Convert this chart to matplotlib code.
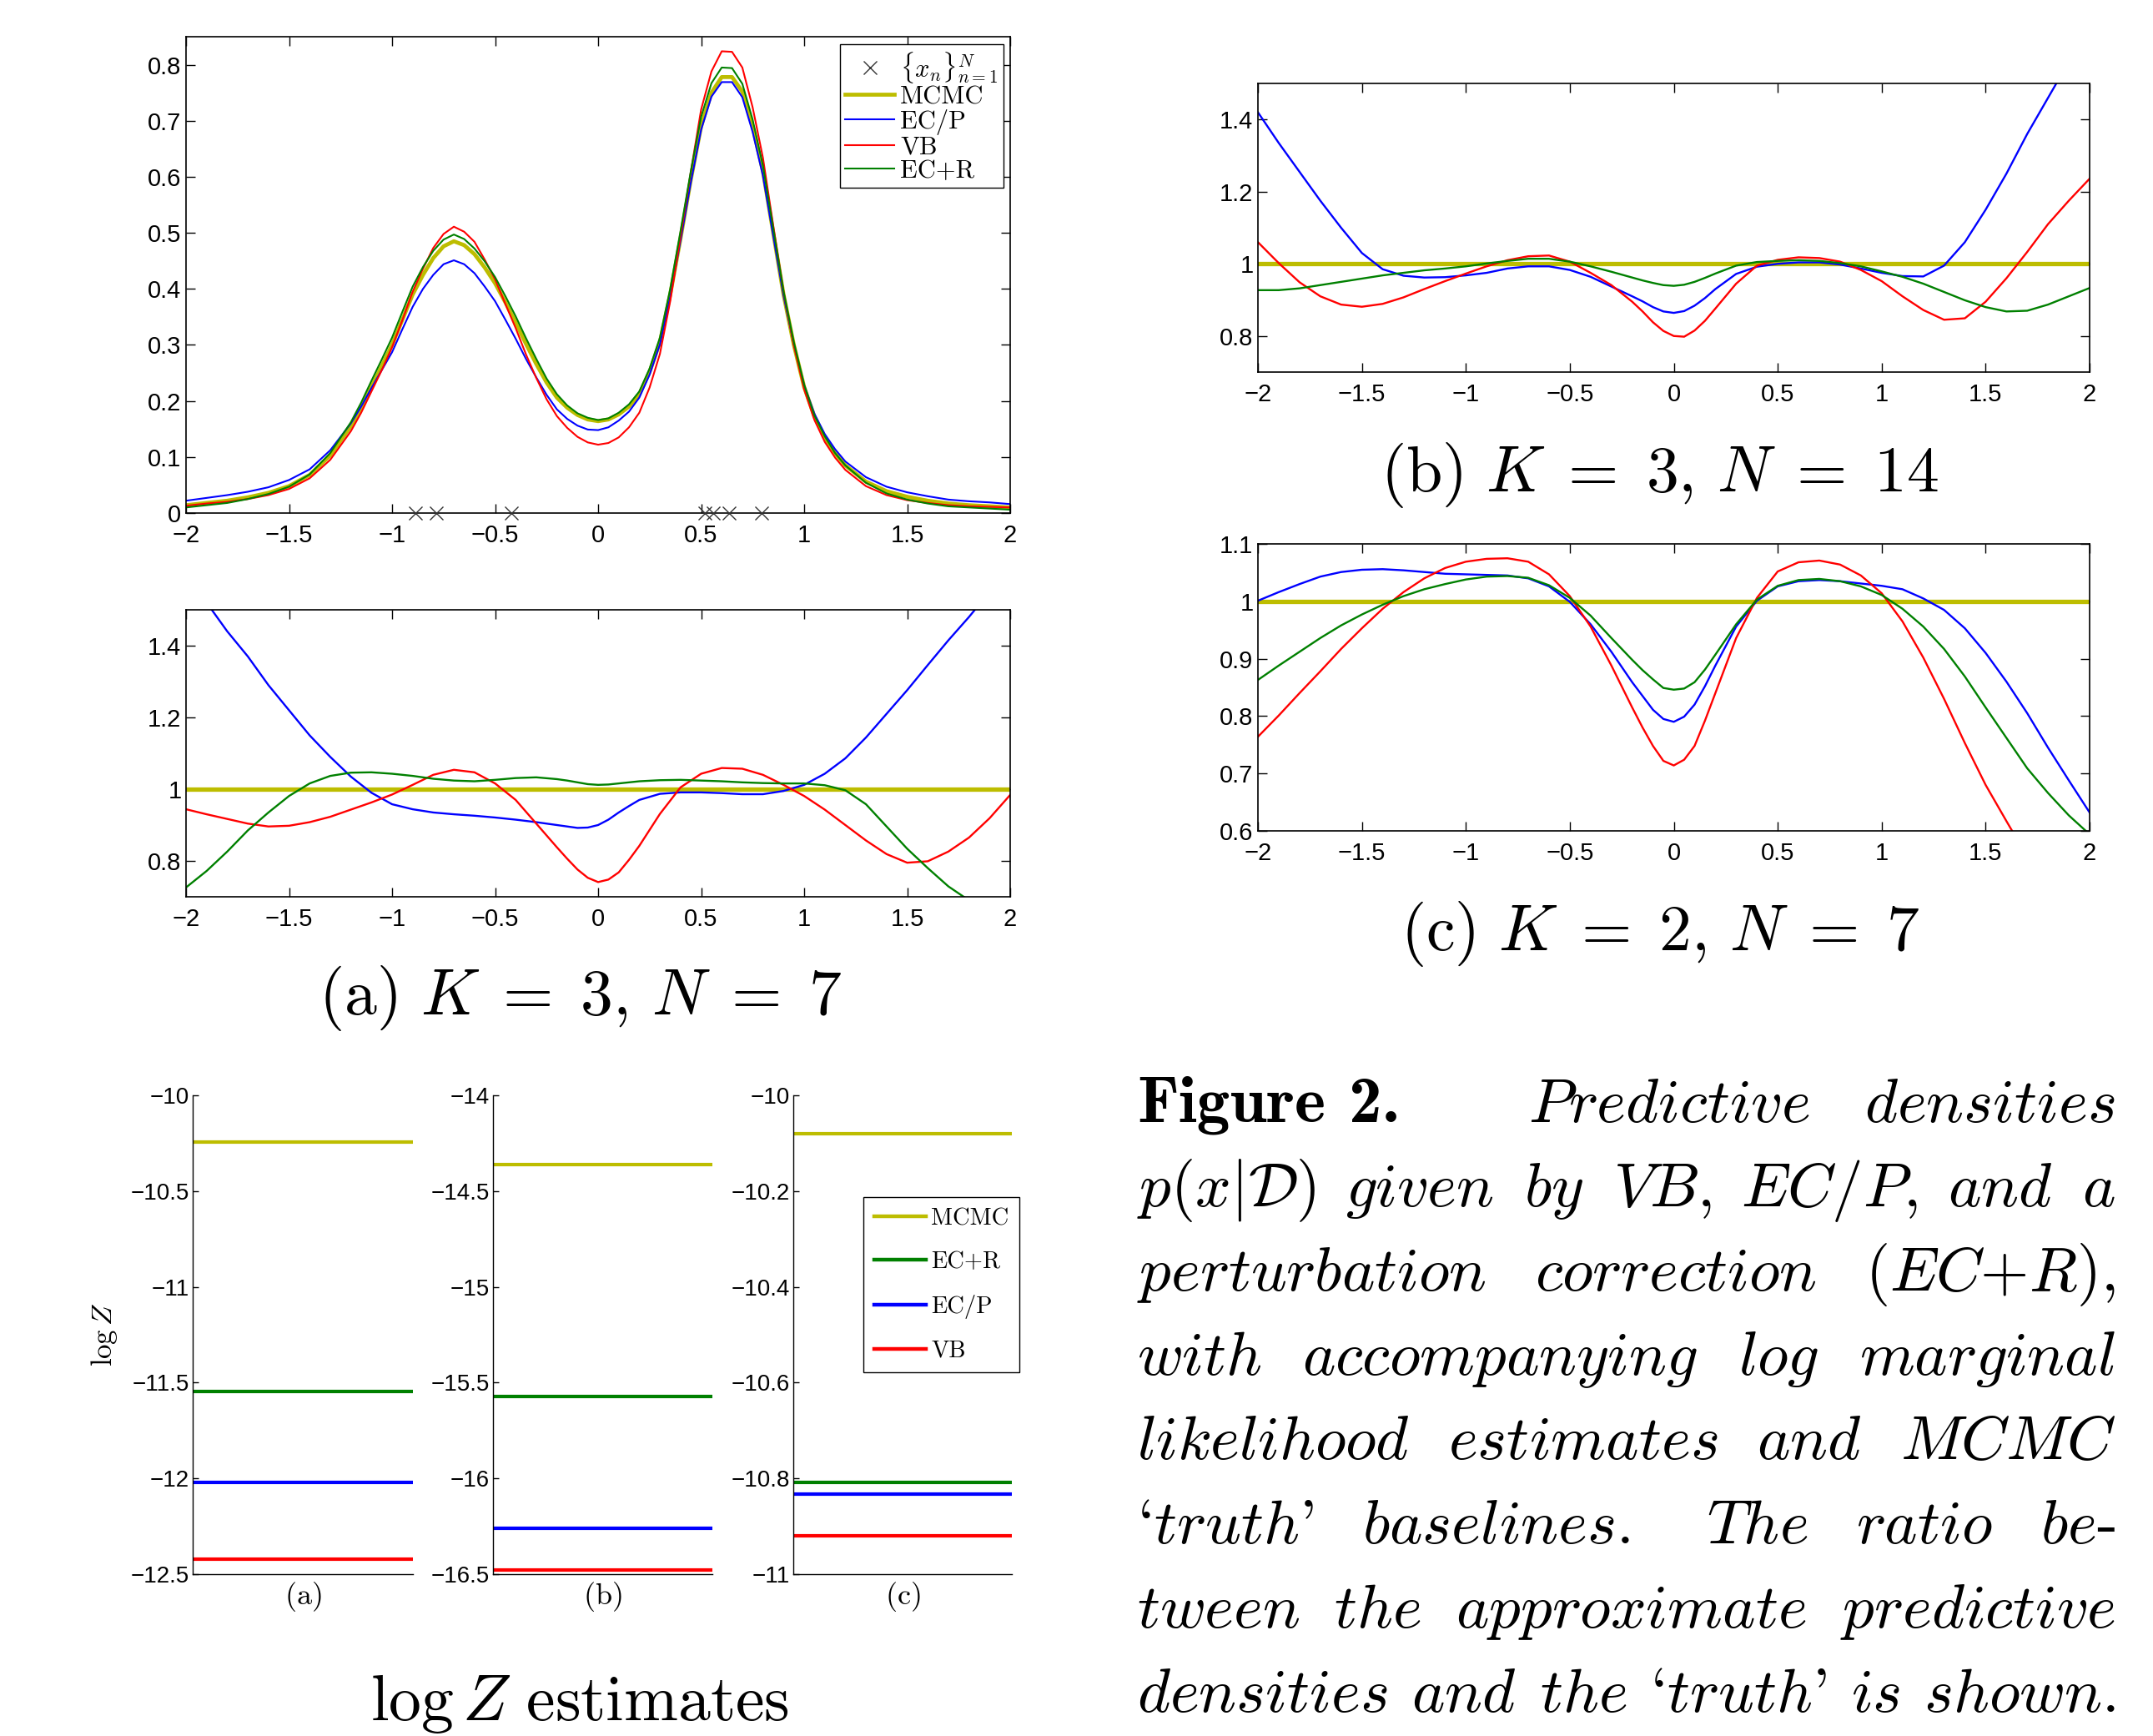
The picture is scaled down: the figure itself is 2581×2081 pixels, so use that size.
import numpy as np
import matplotlib
matplotlib.use("Agg")
import matplotlib.pyplot as plt
from matplotlib.lines import Line2D
from matplotlib.ticker import FuncFormatter

# ------------------------------------------------------------------ data
X_DENS = [-2.0, -1.9, -1.8, -1.7, -1.6, -1.5, -1.4, -1.3, -1.2,
          -1.15, -1.1, -1.05, -1.0, -0.95, -0.9, -0.85, -0.8, -0.75, -0.7,
          -0.65, -0.6, -0.55, -0.5, -0.45, -0.4, -0.35, -0.3, -0.25, -0.2,
          -0.15, -0.1, -0.05, 0.0, 0.05, 0.1, 0.15, 0.2, 0.25, 0.3, 0.35,
          0.4, 0.45, 0.5, 0.55, 0.6, 0.65, 0.7, 0.75, 0.8, 0.85, 0.9, 0.95,
          1.0, 1.05, 1.1, 1.15,
          1.2, 1.3, 1.4, 1.5, 1.6, 1.7, 1.8, 1.9, 2.0]

DENS_MCMC = [.014, .018, .022, .028, .036, .048, .068, .103, .155,
             .188, .225, .262, .300, .345, .390, .425, .455, .476, .485,
             .478, .462, .438, .410, .376, .340, .302, .266, .233, .206,
             .188, .175, .167, .164, .167, .176, .190, .212, .252, .305, .390,
             .490, .595, .690, .750, .778, .778, .752, .690, .610, .500, .390, .300,
             .225, .172, .135, .107,
             .085, .056, .039, .029, .022, .017, .014, .012, .010]

DENS_ECP = [.022, .027, .032, .038, .046, .059, .078, .112, .160,
            .190, .223, .255, .287, .328, .368, .400, .425, .444, .451,
            .444, .428, .404, .378, .345, .311, .275, .242, .211, .185,
            .168, .156, .149, .148, .153, .165, .181, .206, .247, .301, .386,
            .486, .590, .684, .743, .769, .769, .742, .680, .602, .495, .388, .301,
            .228, .177, .141, .114,
            .092, .064, .047, .037, .030, .024, .021, .019, .016]

DENS_VB = [.013, .017, .020, .025, .032, .043, .062, .095, .146,
           .179, .217, .255, .296, .344, .395, .436, .473, .498, .511,
           .502, .484, .452, .417, .373, .330, .283, .241, .203, .173,
           .152, .136, .126, .122, .125, .135, .153, .179, .224, .284, .378,
           .493, .609, .720, .788, .824, .823, .795, .724, .634, .513, .395, .299,
           .221, .166, .127, .099,
           .077, .048, .032, .023, .018, .014, .012, .011, .010]

DENS_ECR = [.010, .014, .018, .025, .034, .047, .069, .107, .162,
            .197, .236, .274, .313, .359, .404, .439, .468, .488, .497,
            .489, .472, .449, .421, .387, .351, .312, .275, .240, .212,
            .192, .178, .170, .166, .169, .179, .194, .217, .258, .313, .400,
            .503, .610, .707, .767, .795, .794, .766, .702, .620, .508, .396, .305,
            .229, .174, .137, .107,
            .085, .054, .035, .024, .017, .012, .010, .008, .006]

X_SAMPLES = [-0.887, -0.787, -0.42, 0.52, 0.56, 0.637, 0.795]

X_RATIO = [-2.0, -1.9, -1.8, -1.7, -1.6, -1.5, -1.4, -1.3, -1.2, -1.1,
           -1.0, -0.9, -0.8, -0.7, -0.6, -0.5, -0.4, -0.3, -0.2, -0.15, -0.1, -0.05,
           0.0, 0.05, 0.1, 0.15, 0.2, 0.3, 0.4, 0.5, 0.6, 0.7, 0.8, 0.9,
           1.0, 1.1, 1.2, 1.3, 1.4, 1.5, 1.6, 1.7, 1.8, 1.9, 2.0]
RATIO_MCMC = 1.0

RA_ECP = [1.60, 1.52, 1.44, 1.37, 1.29, 1.22, 1.15, 1.09, 1.035, 0.99,
          0.958, 0.944, 0.935, 0.930, 0.926, 0.921, 0.915, 0.908, 0.900, 0.896, 0.892, 0.893,
          0.900, 0.915, 0.935, 0.953, 0.970, 0.987, 0.991, 0.991, 0.989, 0.986, 0.986, 0.995,
          1.012, 1.043, 1.086, 1.144, 1.21, 1.276, 1.346, 1.415, 1.48, 1.55, 1.62]
RA_VB = [0.944, 0.930, 0.917, 0.904, 0.896, 0.898, 0.908, 0.923, 0.943, 0.963,
         0.985, 1.012, 1.040, 1.054, 1.047, 1.016, 0.970, 0.904, 0.838, 0.806, 0.776, 0.753,
         0.741, 0.748, 0.768, 0.803, 0.842, 0.931, 1.005, 1.043, 1.059, 1.057, 1.040, 1.012,
         0.981, 0.943, 0.900, 0.857, 0.819, 0.795, 0.799, 0.826, 0.865, 0.919, 0.984]
RA_ECR = [0.726, 0.772, 0.826, 0.885, 0.935, 0.981, 1.016, 1.037, 1.046, 1.047,
          1.043, 1.037, 1.029, 1.024, 1.022, 1.026, 1.031, 1.033, 1.028, 1.024, 1.019, 1.014,
          1.012, 1.013, 1.016, 1.019, 1.022, 1.025, 1.026, 1.024, 1.022, 1.019, 1.017, 1.016,
          1.016, 1.011, 0.997, 0.958, 0.896, 0.834, 0.780, 0.729, 0.690, 0.630, 0.570]

RB_ECP = [1.42, 1.335, 1.255, 1.175, 1.10, 1.03, 0.985, 0.967, 0.962, 0.963,
          0.968, 0.975, 0.987, 0.993, 0.993, 0.983, 0.964, 0.937, 0.910, 0.896, 0.880, 0.868,
          0.864, 0.869, 0.884, 0.905, 0.930, 0.972, 0.992, 1.000, 1.004, 1.004, 0.998, 0.987,
          0.975, 0.966, 0.965, 0.995, 1.06, 1.15, 1.25, 1.36, 1.46, 1.56, 1.66]
RB_VB = [1.06, 1.002, 0.949, 0.910, 0.887, 0.881, 0.889, 0.907, 0.930, 0.952,
         0.973, 0.993, 1.010, 1.021, 1.023, 1.006, 0.975, 0.941, 0.895, 0.868, 0.838, 0.814,
         0.800, 0.798, 0.815, 0.842, 0.876, 0.945, 0.995, 1.011, 1.018, 1.016, 1.006, 0.983,
         0.952, 0.910, 0.872, 0.845, 0.849, 0.895, 0.960, 1.033, 1.11, 1.175, 1.236]
RB_ECR = [0.927, 0.927, 0.932, 0.941, 0.950, 0.959, 0.968, 0.975, 0.982, 0.987,
          0.993, 1.001, 1.008, 1.014, 1.014, 1.006, 0.993, 0.978, 0.962, 0.954, 0.947, 0.941,
          0.939, 0.942, 0.950, 0.961, 0.973, 0.995, 1.005, 1.008, 1.010, 1.008, 1.002, 0.993,
          0.979, 0.964, 0.945, 0.922, 0.899, 0.880, 0.868, 0.870, 0.887, 0.910, 0.933]

RC_ECP = [1.001, 1.016, 1.030, 1.043, 1.051, 1.055, 1.056, 1.054, 1.051, 1.048,
          1.047, 1.046, 1.045, 1.040, 1.026, 0.999, 0.960, 0.912, 0.859, 0.835, 0.811, 0.795,
          0.790, 0.799, 0.820, 0.852, 0.888, 0.956, 1.001, 1.026, 1.035, 1.037, 1.035, 1.031,
          1.027, 1.021, 1.005, 0.985, 0.953, 0.910, 0.860, 0.805, 0.745, 0.688, 0.632]
RC_VB = [0.764, 0.801, 0.840, 0.878, 0.917, 0.953, 0.987, 1.016, 1.040, 1.058,
         1.069, 1.074, 1.075, 1.069, 1.047, 1.009, 0.956, 0.888, 0.815, 0.780, 0.748, 0.722,
         0.714, 0.724, 0.748, 0.792, 0.840, 0.936, 1.006, 1.052, 1.068, 1.071, 1.064, 1.045,
         1.014, 0.965, 0.902, 0.830, 0.753, 0.680, 0.617, 0.555, 0.49, 0.43, 0.37]
RC_ECR = [0.863, 0.888, 0.912, 0.936, 0.958, 0.977, 0.994, 1.009, 1.021, 1.030,
          1.038, 1.043, 1.044, 1.041, 1.028, 1.006, 0.975, 0.936, 0.898, 0.880, 0.864, 0.849,
          0.846, 0.848, 0.859, 0.881, 0.907, 0.960, 1.003, 1.027, 1.037, 1.039, 1.035, 1.026,
          1.011, 0.987, 0.956, 0.917, 0.869, 0.815, 0.762, 0.709, 0.666, 0.627, 0.594]

LOGZ_METHODS = ["MCMC", "EC+R", "EC/P", "VB"]
LOGZ_A = [-10.244, -11.548, -12.021, -12.423]
LOGZ_B = [-14.363, -15.572, -16.261, -16.480]
LOGZ_C = [-10.080, -10.808, -10.833, -10.920]
LOGZ_PANEL_LABELS = ["(a)", "(b)", "(c)"]

X_TICKS = [-2, -1.5, -1, -0.5, 0, 0.5, 1, 1.5, 2]
DENS_YTICKS = [0, 0.1, 0.2, 0.3, 0.4, 0.5, 0.6, 0.7, 0.8]
RATIO_YTICKS_AB = [0.8, 1.0, 1.2, 1.4]
RATIO_YTICKS_C = [0.6, 0.7, 0.8, 0.9, 1.0, 1.1]
LOGZ_YTICKS_A = [-12.5, -12, -11.5, -11, -10.5, -10]
LOGZ_YTICKS_B = [-16.5, -16, -15.5, -15, -14.5, -14]
LOGZ_YTICKS_C = [-11, -10.8, -10.6, -10.4, -10.2, -10]

CAPTION_LINES = [
    ["Figure", "2.", r"$\mathit{Predictive}$", r"$\mathit{densities}$"],
    [r"$p(x|\mathcal{D})$", r"$\mathit{given}$", r"$\mathit{by}$", r"$\mathit{VB}$,",
     r"$\mathit{EC/P}$,", r"$\mathit{and}$", r"$\mathit{a}$"],
    [r"$\mathit{perturbation}$", r"$\mathit{correction}$", r"($\mathit{EC}$+$\mathit{R}$),"],
    [r"$\mathit{with}$", r"$\mathit{accompanying}$", r"$\mathit{log}$", r"$\mathit{marginal}$"],
    [r"$\mathit{likelihood}$", r"$\mathit{estimates}$", r"$\mathit{and}$", r"$\mathit{MCMC}$"],
    [r"`$\mathit{truth}$'", r"$\mathit{baselines}$.", r"$\mathit{The}$", r"$\mathit{ratio}$",
     r"$\mathit{be}$-"],
    [r"$\mathit{tween}$", r"$\mathit{the}$", r"$\mathit{approximate}$", r"$\mathit{predictive}$"],
    [r"$\mathit{densities}$", r"$\mathit{and}$", r"$\mathit{the}$", r"`$\mathit{truth}$'",
     r"$\mathit{is}$", r"$\mathit{shown}$."],
]
CAPTION_BOLD_WORDS = {(0, 0), (0, 1)}
CAPTION_GAP_WEIGHTS = {0: [0.42, 2.35, 1.0], 5: [1.0, 1.6, 1.0, 1.0]}

# ------------------------------------------------------------------ style
COLORS = {"MCMC": "#BDBD00", "EC/P": "#0000FF", "VB": "#FF0000", "EC+R": "#008000"}

plt.rcParams['mathtext.fontset'] = 'cm'
plt.rcParams['font.family'] = ['Liberation Sans', 'DejaVu Sans']
plt.rcParams['axes.unicode_minus'] = True

W, H = 2581, 2081
fig = plt.figure(figsize=(W / 100, H / 100), dpi=100)


def rect(l, t, r, b):
    return [l / W, 1 - b / H, (r - l) / W, (b - t) / H]


def tick_fmt(v, pos):
    return f"{v:g}".replace("-", "\u2212")


def box_axes(px, ylim, yticks):
    ax = fig.add_axes(rect(*px))
    ax.set_xlim(-2, 2)
    ax.set_ylim(*ylim)
    ax.set_xticks(X_TICKS)
    ax.set_yticks(yticks)
    ax.xaxis.set_major_formatter(FuncFormatter(tick_fmt))
    ax.yaxis.set_major_formatter(FuncFormatter(tick_fmt))
    ax.tick_params(direction='in', top=True, right=True, length=8, width=1.0,
                   labelsize=21, colors='black')
    ax.tick_params(axis='x', pad=9.5)
    ax.tick_params(axis='y', pad=4)
    for s in ax.spines.values():
        s.set_linewidth(1.2)
    return ax


# ---------------- (a) density panel
ax = box_axes((223, 44, 1211, 615), (0, 0.85), DENS_YTICKS)
ax.plot(X_DENS, DENS_MCMC, color=COLORS["MCMC"], lw=3.4, solid_capstyle='butt')
ax.plot(X_DENS, DENS_ECP, color=COLORS["EC/P"], lw=1.5)
ax.plot(X_DENS, DENS_VB, color=COLORS["VB"], lw=1.5)
ax.plot(X_DENS, DENS_ECR, color=COLORS["EC+R"], lw=1.5)
ax.plot(X_SAMPLES, np.zeros(len(X_SAMPLES)), linestyle='none', marker='x', color='#333333',
        ms=11, mew=1.0, clip_on=False, zorder=5)

handles = [Line2D([], [], linestyle='none', marker='x', color='#333333', ms=11, mew=1.0),
           Line2D([], [], color=COLORS["MCMC"], lw=3.4),
           Line2D([], [], color=COLORS["EC/P"], lw=1.5),
           Line2D([], [], color=COLORS["VB"], lw=1.5),
           Line2D([], [], color=COLORS["EC+R"], lw=1.5)]
labels = [r"$\{x_n\}_{n=1}^N$", "MCMC", "EC/P", "VB", "EC+R"]
leg = ax.legend(handles, labels, loc='upper right', bbox_to_anchor=(1203 / W, 1 - 53 / H),
                bbox_transform=fig.transFigure, prop={'family': 'cmr10', 'size': 22},
                fancybox=False, edgecolor='black', framealpha=1, borderaxespad=0,
                labelspacing=0.03, handlelength=1.9, handletextpad=0.25, borderpad=0.22)
leg.get_frame().set_linewidth(1.0)


# ---------------- ratio panels
def ratio_panel(px, ylim, yticks, ecp, vb, ecr):
    a = box_axes(px, ylim, yticks)
    a.axhline(RATIO_MCMC, color=COLORS["MCMC"], lw=3.8)
    a.plot(X_RATIO, ecp, color=COLORS["EC/P"], lw=1.7)
    a.plot(X_RATIO, vb, color=COLORS["VB"], lw=1.7)
    a.plot(X_RATIO, ecr, color=COLORS["EC+R"], lw=1.7)
    return a


ratio_panel((223, 731, 1211, 1075), (0.7, 1.5), RATIO_YTICKS_AB, RA_ECP, RA_VB, RA_ECR)
ratio_panel((1508, 100, 2505, 446), (0.7, 1.5), RATIO_YTICKS_AB, RB_ECP, RB_VB, RB_ECR)
ratio_panel((1508, 652, 2505, 996), (0.6, 1.1), RATIO_YTICKS_C, RC_ECP, RC_VB, RC_ECR)

CAP_FS = 56
fig.text(696 / W, 1 - 1216 / H, r"$\mathrm{(a)}\ K\;=\;3,\,N\;=\;7$", ha='center',
         va='baseline', fontsize=CAP_FS)
fig.text(1990 / W, 1 - 589 / H, r"$\mathrm{(b)}\ K\;=\;3,\,N\;=\;14$", ha='center',
         va='baseline', fontsize=CAP_FS)
fig.text(1990 / W, 1 - 1139 / H, r"$\mathrm{(c)}\ K\;=\;2,\,N\;=\;7$", ha='center',
         va='baseline', fontsize=CAP_FS)
fig.text(695 / W, 1 - 2062 / H, r"$\log Z\ \mathrm{estimates}$", ha='center', va='baseline',
         fontsize=CAP_FS)

# ---------------- log Z panels
logz_specs = [((231, 495), LOGZ_A, (-12.5, -10), LOGZ_YTICKS_A),
              ((591, 854), LOGZ_B, (-16.5, -14), LOGZ_YTICKS_B),
              ((951, 1213), LOGZ_C, (-11, -10), LOGZ_YTICKS_C)]
for idx, ((l, r), vals, ylim, yt) in enumerate(logz_specs):
    a = fig.add_axes(rect(l, 1313, r, 1887))
    for m, v in zip(LOGZ_METHODS, vals):
        a.axhline(v, color=COLORS[m], lw=3.0)
    a.set_xlim(0, 1)
    a.set_ylim(*ylim)
    a.set_xticks([])
    a.set_yticks(yt)
    a.yaxis.set_major_formatter(FuncFormatter(tick_fmt))
    a.spines['top'].set_visible(False)
    a.spines['right'].set_visible(False)
    a.spines['left'].set_linewidth(1.0)
    a.spines['bottom'].set_linewidth(1.0)
    a.tick_params(axis='y', direction='in', length=5, width=1.0, labelsize=20, pad=3)
    a.text(0.5, -0.012, r"$\mathrm{" + LOGZ_PANEL_LABELS[idx] + "}$", transform=a.transAxes,
           ha='center', va='top', fontsize=26)

fig.text(125 / W, 1 - 1600 / H, r"$\log Z$", rotation=90, ha='center', va='center', fontsize=25)

leg2 = fig.legend([Line2D([], [], color=COLORS[m], lw=3.2) for m in LOGZ_METHODS], LOGZ_METHODS,
                  loc='upper left', bbox_to_anchor=(1035 / W, 1 - 1435 / H),
                  prop={'family': 'cmr10', 'size': 20.5}, fancybox=False, edgecolor='black',
                  framealpha=1, borderaxespad=0, labelspacing=0.9, handlelength=2.2,
                  handletextpad=0.2, borderpad=0.45)
leg2.get_frame().set_linewidth(1.0)

# ---------------- caption paragraph (justified)
CAP_L, CAP_R = 1363, 2536
CAP_BASE0, CAP_PITCH = 1345, 101
PARA_FS = 54
renderer = fig.canvas.get_renderer()
for i, words in enumerate(CAPTION_LINES):
    ys = 1 - (CAP_BASE0 + i * CAP_PITCH) / H
    texts = []
    for j, w in enumerate(words):
        fam = 'cmb10' if (i, j) in CAPTION_BOLD_WORDS else 'cmr10'
        fs = PARA_FS + 3 if (i, j) in CAPTION_BOLD_WORDS else PARA_FS
        texts.append(fig.text(0, ys, w, fontsize=fs, family=fam, ha='left', va='baseline'))
    widths = [t.get_window_extent(renderer).width for t in texts]
    weights = CAPTION_GAP_WEIGHTS.get(i, [1.0] * (len(words) - 1))
    unit = (CAP_R - CAP_L - sum(widths)) / sum(weights)
    x = CAP_L
    for t, w, g in zip(texts, widths, weights + [0]):
        t.set_x(x / W)
        x += w + g * unit

fig.savefig("out.png", dpi=100)
